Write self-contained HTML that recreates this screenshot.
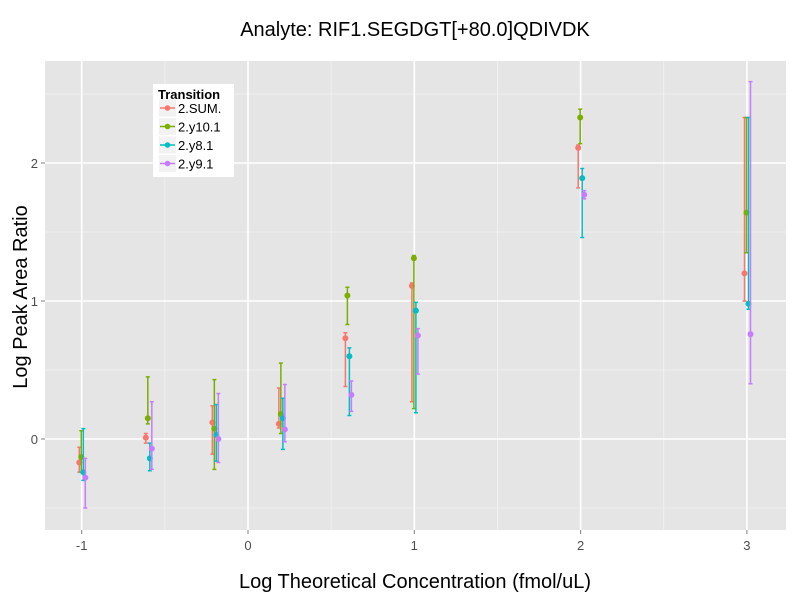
<!DOCTYPE html>
<html><head><meta charset="utf-8"><style>
body{margin:0;background:#fff;}
svg{display:block;font-family:"Liberation Sans",sans-serif;}
</style></head><body>
<svg id="chart" width="800" height="600">
<text x="415" y="36" text-anchor="middle" font-size="20">Analyte: RIF1.SEGDGT[+80.0]QDIVDK</text>
<rect x="45" y="61" width="741" height="469" fill="#e5e5e5"/>
<g id="grid"></g>
<g id="marks"></g>
<g id="axes"></g>
<text x="415" y="588" text-anchor="middle" font-size="20">Log Theoretical Concentration (fmol/uL)</text>
<text transform="translate(27,297) rotate(-90)" text-anchor="middle" font-size="20">Log Peak Area Ratio</text>
<g>
<rect x="153" y="84" width="81" height="93" fill="#fff"/>
<text x="158" y="99" font-size="13" font-weight="bold">Transition</text>
<g id="legend"></g>
</g>
</svg>
<script>
const xVals=[-1,-0.6,-0.2,0.2,0.6,1,2,3];
const seriesNames=["2.SUM.","2.y10.1","2.y8.1","2.y9.1"];
const colors=["#F8766D","#7CAE00","#00BFC4","#C77CFF"];
const sumY=[-0.17,0.01,0.12,0.11,0.73,1.11,2.11,1.20];
const sumLo=[-0.24,-0.03,-0.11,0.08,0.38,0.27,1.82,1.00];
const sumHi=[-0.06,0.04,0.24,0.37,0.77,1.13,2.13,2.33];
const y10Y=[-0.13,0.15,0.075,0.18,1.04,1.31,2.33,1.64];
const y10Lo=[-0.24,0.11,-0.22,0.04,0.83,0.22,2.14,1.35];
const y10Hi=[0.06,0.45,0.43,0.55,1.10,1.33,2.39,2.33];
const y8Y=[-0.24,-0.14,0.03,0.15,0.60,0.93,1.89,0.98];
const y8Lo=[-0.30,-0.23,-0.16,-0.075,0.17,0.19,1.46,0.94];
const y8Hi=[0.075,-0.03,0.25,0.295,0.66,0.99,1.96,2.33];
const y9Y=[-0.28,-0.07,0.0,0.07,0.32,0.75,1.77,0.76];
const y9Lo=[-0.50,-0.22,-0.17,-0.02,0.20,0.47,1.74,0.40];
const y9Hi=[-0.14,0.27,0.33,0.395,0.42,0.80,1.80,2.59];
const xTicks=[-1,0,1,2,3];
const yTicks=[0,1,2];
const NS="http://www.w3.org/2000/svg";
const px=v=>248+v*166.3;
const py=v=>439-v*138;
function mk(tag,attrs,parent){const e=document.createElementNS(NS,tag);for(const k in attrs)e.setAttribute(k,attrs[k]);parent.appendChild(e);return e;}
const grid=document.getElementById('grid'),marks=document.getElementById('marks'),axes=document.getElementById('axes'),leg=document.getElementById('legend');
[-0.5,0.5,1.5,2.5].forEach(v=>{const l=mk('line',{x1:px(v),x2:px(v),y1:61,y2:530,stroke:'#f2f2f2','stroke-width':0.8},grid);

});
[-0.5,0.5,1.5,2.5].forEach(v=>{const l=mk('line',{x1:45,x2:786,y1:py(v),y2:py(v),stroke:'#f2f2f2','stroke-width':0.8},grid);

});
xTicks.forEach(v=>{const l=mk('line',{x1:px(v),x2:px(v),y1:61,y2:530,stroke:'#fff','stroke-width':1.6},grid);


const t=mk('line',{x1:px(v),x2:px(v),y1:530,y2:534,stroke:'#7f7f7f'},axes);


const tx=mk('text',{x:px(v),y:550,'text-anchor':'middle','font-size':13,fill:'#4d4d4d'},axes);tx.textContent=v;

});
yTicks.forEach(v=>{const l=mk('line',{x1:45,x2:786,y1:py(v),y2:py(v),stroke:'#fff','stroke-width':1.6},grid);


const t=mk('line',{x1:41,x2:45,y1:py(v),y2:py(v),stroke:'#7f7f7f'},axes);


const tx=mk('text',{x:38,y:py(v)+5,'text-anchor':'end','font-size':13,fill:'#4d4d4d'},axes);tx.textContent=v;

});
const S=[[sumY,sumLo,sumHi],[y10Y,y10Lo,y10Hi],[y8Y,y8Lo,y8Hi],[y9Y,y9Lo,y9Hi]];
const dodge=[-2.4,-0.4,1.6,3.6];
S.forEach((s,i)=>{const g=mk('g',{},marks);


xVals.forEach((x,j)=>{const cx=px(x)+dodge[i];const c=colors[i];
const e=mk('path',{d:`M${cx-2},${py(s[2][j])}H${cx+2}M${cx},${py(s[2][j])}V${py(s[1][j])}M${cx-2},${py(s[1][j])}H${cx+2}`,stroke:c,'stroke-width':1.5,fill:'none'},g);


const p=mk('circle',{cx:cx,cy:py(s[0][j]),r:3,fill:c},g);

});});
seriesNames.forEach((n,i)=>{const y=108+i*18.5;
const g=mk('g',{},leg);


mk('rect',{x:159,y:y-8.5,width:17,height:17,fill:'#f2f2f2'},g);
mk('line',{x1:160,x2:175,y1:y,y2:y,stroke:colors[i],'stroke-width':1.5},g);
mk('circle',{cx:167.5,cy:y,r:2.8,fill:colors[i]},g);
const t=mk('text',{x:178,y:y+5,'font-size':13},g);t.textContent=n;});
</script>
</body></html>
